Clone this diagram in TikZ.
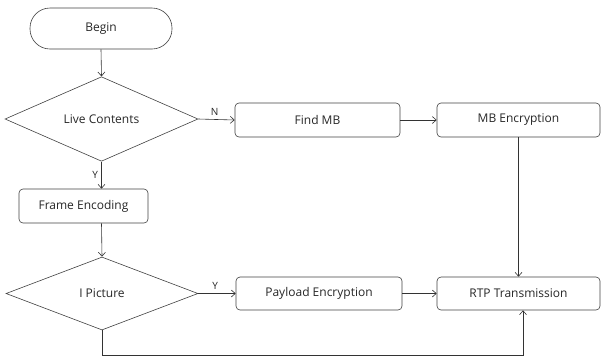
\documentclass[tikz,border=0pt]{standalone}
\usepackage{fontspec}
\setmainfont{Open Sans}
\usetikzlibrary{shapes.geometric,arrows.meta}
\begin{document}
\begin{tikzpicture}[x=1pt,y=-1pt,
  every node/.style={font=\fontsize{12}{14}\selectfont, text=black!85},
  procbox/.style={draw=black!75, line width=0.6pt, rounded corners=4pt, inner sep=0pt},
  decbox/.style={draw=black!75, line width=0.6pt, diamond, inner sep=0pt},
  conn/.style={draw=black!80, line width=0.6pt, -{Straight Barb[length=4pt,width=7pt]}},
  lbl/.style={font=\fontsize{10}{11}\selectfont}]
\useasboundingbox (0,0) rectangle (601,360);
\node[procbox, rounded corners=20pt, minimum width=142pt, minimum height=41pt] (begin) at (101,28.5) {Begin};
\node[decbox, minimum width=193pt, minimum height=72pt] (live) at (101.5,119) {Live Contents};
\node[procbox, minimum width=165pt, minimum height=34pt] (find) at (317.5,120) {Find MB};
\node[procbox, minimum width=163pt, minimum height=34pt] (mbenc) at (518.5,120) {MB Encryption};
\node[procbox, minimum width=129pt, minimum height=34pt] (frame) at (83.5,206) {Frame Encoding};
\node[decbox, minimum width=192pt, minimum height=73pt] (ipic) at (102,293.5) {I Picture};
\node[procbox, minimum width=166pt, minimum height=33pt] (pay) at (319,293.5) {Payload Encryption};
\node[procbox, minimum width=163pt, minimum height=33pt] (rtp) at (518.5,293.5) {RTP Transmission};
\coordinate (loopend) at (523,355);
\draw[conn] (begin.south) -- (live.north);
\draw[conn] (live.east) -- node[lbl, above, pos=0.45] {N} (find.west);
\draw[conn] (find.east) -- (mbenc.west);
\draw[conn] (mbenc.south) -- (mbenc.south |- rtp.north);
\draw[conn] (live.south) -- node[lbl, left, pos=0.5] {Y} (live.south |- frame.north);
\draw[conn] (live.south |- frame.south) -- (ipic.north);
\draw[conn] (ipic.east) -- node[lbl, above, pos=0.45] {Y} (pay.west);
\draw[conn] (pay.east) -- (rtp.west);
\draw[conn] (ipic.south) |- (loopend) -- (loopend |- rtp.south);
\end{tikzpicture}
\end{document}
